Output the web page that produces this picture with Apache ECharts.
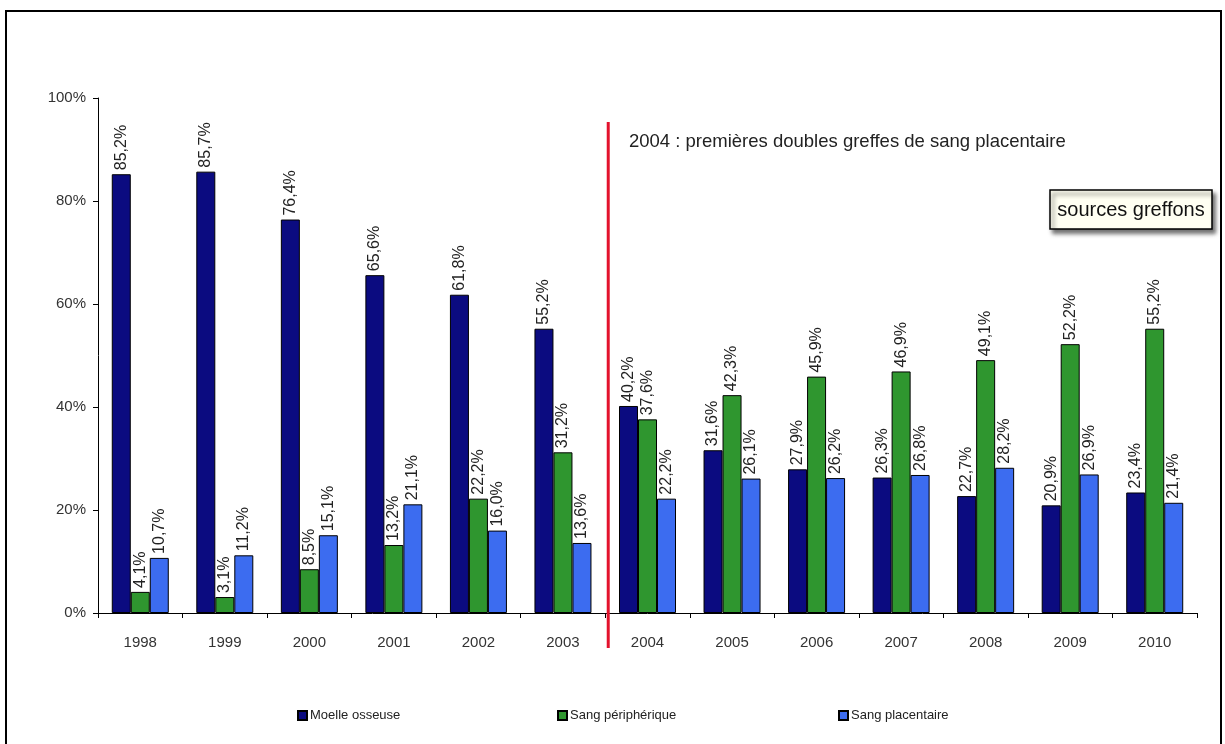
<!DOCTYPE html>
<html>
<head>
<meta charset="utf-8">
<script src="https://cdn.jsdelivr.net/npm/echarts@6/dist/echarts.min.js"></script>
<style>
  html, body { margin: 0; padding: 0; background: #ffffff; }
  #chart { width: 1225px; height: 744px; }
</style>
</head>
<body>
<div id="chart"></div>
<script>
const years = ['1998','1999','2000','2001','2002','2003','2004','2005','2006','2007','2008','2009','2010'];
const moelleOsseuse = [85.2, 85.7, 76.4, 65.6, 61.8, 55.2, 40.2, 31.6, 27.9, 26.3, 22.7, 20.9, 23.4];
const sangPeripherique = [4.1, 3.1, 8.5, 13.2, 22.2, 31.2, 37.6, 42.3, 45.9, 46.9, 49.1, 52.2, 55.2];
const sangPlacentaire = [10.7, 11.2, 15.1, 21.1, 16.0, 13.6, 22.2, 26.1, 26.2, 26.8, 28.2, 26.9, 21.4];
const seriesNames = ['Moelle osseuse', 'Sang périphérique', 'Sang placentaire'];
const yTicks = [0, 20, 40, 60, 80, 100];
const annotationText = '2004 : premières doubles greffes de sang placentaire';
const boxText = 'sources greffons';
const markerAfterIndex = 5; // line drawn between 2003 and 2004

const FONT = '"Liberation Sans", Arial, sans-serif';
const colors = ['#0b0b80', '#2f962f', '#3c6cf0'];

const chart = echarts.init(document.getElementById('chart'), null, { renderer: 'canvas' });

function fmt(v) { return v.toFixed(1).replace('.', ',') + '%'; }

const labelCfg = {
  show: true,
  position: 'top',
  rotate: 90,
  align: 'left',
  verticalAlign: 'middle',
  distance: 4,
  color: '#222',
  fontFamily: FONT,
  fontSize: 16,
  formatter: p => fmt(p.value)
};

function mkSeries(name, data, color) {
  return {
    name: name,
    type: 'bar',
    data: data,
    barWidth: 19,
    barGap: '0%',
    itemStyle: { color: color, borderColor: '#000', borderWidth: 1 },
    label: labelCfg,
    emphasis: { disabled: true },
    animation: false
  };
}

function legendAt(left, name) {
  return {
    left: left, top: 704,
    data: [name],
    icon: 'rect',
    itemWidth: 9, itemHeight: 9,
    itemGap: 0,
    textStyle: { fontFamily: FONT, fontSize: 13, color: '#222', padding: [0, 0, 0, -2] },
    selectedMode: false
  };
}

const option = {
  backgroundColor: '#ffffff',
  animation: false,
  color: colors,
  grid: { left: 98, right: 28, top: 98, bottom: 131, containLabel: false },
  legend: [
    legendAt(292, seriesNames[0]),
    legendAt(552, seriesNames[1]),
    legendAt(833, seriesNames[2])
  ],
  xAxis: {
    type: 'category',
    data: years,
    boundaryGap: true,
    axisLine: { show: true, lineStyle: { color: '#000', width: 1 } },
    axisTick: { show: true, length: 5, lineStyle: { color: '#000' } },
    axisLabel: { color: '#333', fontFamily: FONT, fontSize: 15, margin: 22 },
    splitLine: { show: false }
  },
  yAxis: {
    type: 'value',
    min: yTicks[0],
    max: yTicks[yTicks.length - 1],
    interval: yTicks[1] - yTicks[0],
    axisLine: { show: true, lineStyle: { color: '#000', width: 1 } },
    axisTick: { show: true, length: 5, lineStyle: { color: '#000' } },
    axisLabel: { color: '#333', fontFamily: FONT, fontSize: 15, margin: 12, formatter: '{value}%' },
    splitLine: { show: false }
  },
  series: [
    mkSeries(seriesNames[0], moelleOsseuse, colors[0]),
    mkSeries(seriesNames[1], sangPeripherique, colors[1]),
    mkSeries(seriesNames[2], sangPlacentaire, colors[2])
  ]
};

chart.setOption(option);

const xa = chart.convertToPixel({ xAxisIndex: 0 }, markerAfterIndex);
const xb = chart.convertToPixel({ xAxisIndex: 0 }, markerAfterIndex + 1);
const lineX = (xa + xb) / 2 + 3;

chart.setOption({
  graphic: [
    {
      type: 'rect', silent: true, z: 100,
      shape: { x: 6, y: 11, width: 1215, height: 745 },
      style: { fill: 'none', stroke: '#000', lineWidth: 2 }
    },
    {
      type: 'line', silent: true, z: 50,
      shape: { x1: lineX, y1: 122, x2: lineX, y2: 648 },
      style: { stroke: '#e3122c', lineWidth: 3 }
    },
    {
      type: 'text', silent: true, z: 50,
      left: 629, top: 132,
      style: { text: annotationText, fill: '#222', font: '18.5px ' + FONT }
    },
    {
      type: 'rect', silent: true, z: 50,
      shape: { x: 1050, y: 190, width: 162, height: 39 },
      style: {
        fill: '#fffff2', stroke: '#000', lineWidth: 1.5,
        shadowBlur: 4, shadowOffsetX: 3, shadowOffsetY: 4, shadowColor: 'rgba(0,0,0,0.55)'
      }
    },
    {
      type: 'text', silent: true, z: 51,
      x: 1131, y: 210,
      style: { text: boxText, fill: '#111', font: '20px ' + FONT, align: 'center', verticalAlign: 'middle' }
    }
  ]
});
</script>
</body>
</html>
